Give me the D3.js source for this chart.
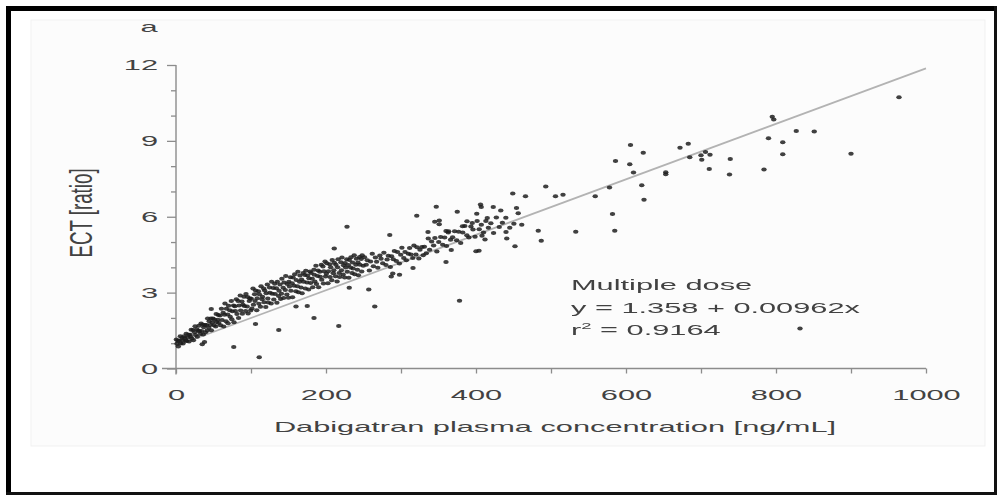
<!DOCTYPE html>
<html>
<head>
<meta charset="utf-8">
<script src="https://cdn.jsdelivr.net/npm/d3@7"></script>
<style>
  body { margin: 0; background: #fff; }
  svg { display: block; font-family: "Liberation Sans", Arial, sans-serif; }
</style>
</head>
<body>
<svg id="chart" width="997" height="495"></svg>
<script>
// axis ticks
const xTickValues = [0, 100, 200, 300, 400, 500, 600, 700, 800, 900, 1000];
const xLabelValues = [0, 200, 400, 600, 800, 1000];
const yTickValues = [0, 1, 2, 3, 4, 5, 6, 7, 8, 9, 10, 11, 12];
const yLabelValues = [0, 3, 6, 9, 12];

// fitted line, as drawn in the figure
const fitConc = [0, 1000];
const fitEct = [0.9, 11.87];

// [concentration ng/mL, ECT ratio]
const denseBand = [
  [0.5,1.15],[1.3,0.98],[2.6,1.10],[3.1,0.87],[4.4,1.09],[5.8,1.28],[6.3,0.99],[7.9,1.21],[8.6,1.12],[9.4,0.99],
  [10.8,1.28],[11.5,1.21],[12.9,1.12],[13.6,1.37],[14.2,1.09],[15.7,1.24],[16.9,1.33],[17.4,1.07],[18.8,1.33],[19.5,1.26],
  [20.3,1.53],[21.1,1.19],[22.6,1.52],[23.2,1.12],[24.7,1.43],[25.5,1.67],[26.1,1.32],[27.8,1.55],[28.4,1.26],[29.9,1.49],
  [30.6,1.69],[31.2,1.47],[32.7,1.36],[33.5,1.78],[34.1,1.48],[35.8,1.73],[36.4,1.34],[37.0,1.63],[38.6,1.72],[39.3,1.43],
  [40.8,1.72],[41.5,1.50],[42.2,1.98],[43.7,1.61],[44.3,1.87],[45.9,1.72],[46.6,1.98],[47.1,1.51],[48.5,1.82],[49.2,1.98],
  [50.7,1.71],[51.3,1.94],[52.9,1.66],[53.6,2.15],[54.2,1.84],[55.8,1.93],[56.5,2.12],[57.1,1.80],[58.7,2.10],[59.4,1.71],
  [60.6,2.36],[61.4,1.92],[62.9,2.20],[63.5,1.66],[64.8,2.13],[65.3,2.57],[66.7,1.87],[67.2,2.36],[68.9,2.14],[69.4,1.79],
  [70.1,2.48],[71.6,2.30],[72.3,2.05],[73.8,2.67],[74.4,1.95],[75.1,2.26],[76.7,2.49],[77.3,1.83],[78.6,2.46],[79.2,2.27],
  [80.5,2.74],[81.3,2.15],[82.8,2.67],[83.4,2.00],[84.1,2.49],[85.7,2.89],[86.2,2.29],[87.9,2.65],[88.5,2.16],[89.3,2.52],
  [90.6,2.84],[91.2,2.47],[92.8,2.27],[93.3,2.95],[94.9,2.45],[95.5,2.83],[96.1,2.17],[97.7,2.67],[98.4,2.78],[99.6,2.29],
  [100.4,2.76],[101.2,2.37],[102.7,3.16],[103.3,2.52],[104.8,2.94],[105.4,2.67],[106.1,3.08],[107.6,2.30],[108.3,2.78],[109.9,3.05],
  [110.5,2.56],[111.1,2.94],[112.6,2.44],[113.4,3.25],[114.8,2.74],[115.3,2.84],[116.9,3.16],[117.5,2.62],[118.2,3.08],[119.7,2.43],
  [120.3,2.98],[121.8,3.32],[122.4,2.77],[123.1,2.61],[124.7,3.20],[125.2,3.00],[126.9,2.57],[127.5,3.43],[128.3,2.96],[129.8,3.18],
  [130.4,2.73],[131.6,3.35],[132.2,2.95],[133.9,3.17],[134.5,2.60],[135.1,3.43],[136.8,2.87],[137.4,3.07],[138.7,3.32],[139.5,2.75],
  [140.6,2.96],[141.2,3.55],[142.9,3.19],[143.5,2.79],[144.1,3.40],[145.7,3.10],[146.3,3.66],[147.8,2.93],[148.4,3.34],[149.9,2.80],
  [150.5,3.43],[151.3,3.24],[152.7,3.61],[153.2,3.07],[154.8,3.37],[155.4,2.82],[156.1,3.60],[157.6,3.27],[158.3,3.73],[159.8,3.05],
  [160.4,3.50],[161.9,3.25],[162.5,3.83],[163.2,3.01],[164.8,3.43],[165.3,3.68],[166.7,3.20],[167.4,3.52],[168.1,2.98],[169.6,3.78],
  [170.2,3.43],[171.8,3.70],[172.5,3.16],[173.1,3.86],[174.7,3.40],[175.4,3.68],[176.9,3.12],[177.3,3.57],[178.8,3.84],[179.5,3.38],
  [180.2,3.78],[181.7,3.55],[182.3,3.21],[183.9,3.90],[184.4,3.71],[185.1,3.44],[186.6,4.06],[187.3,3.34],[188.8,3.66],[189.5,3.87],
  [190.1,3.21],[191.7,3.83],[192.4,3.63],[193.8,4.10],[194.3,3.51],[195.9,4.03],[196.6,3.36],[197.2,3.85],[198.7,4.23],[199.4,3.64],
  [200.5,3.75],[201.1,4.16],[202.6,3.37],[203.3,3.85],[204.9,4.12],[205.4,3.62],[206.2,4.00],[207.7,3.49],[208.3,4.29],[209.8,3.77],
  [210.4,3.88],[211.1,4.18],[212.7,3.65],[213.2,4.10],[214.8,3.44],[215.5,4.00],[216.1,4.32],[217.6,3.78],[218.3,3.62],[219.9,4.20],
  [220.6,3.88],[221.3,4.39],[222.8,3.72],[223.4,4.08],[224.9,3.60],[225.5,4.17],[226.2,3.99],[227.7,4.32],[228.4,3.83],[229.9,4.09],
  [230.5,3.59],[231.2,4.29],[232.8,3.99],[233.3,4.40],[234.7,3.78],[235.4,4.19],[236.1,3.95],[237.6,4.48],[238.2,3.73],[239.8,4.10],
  [240.5,4.34],[241.9,3.90],[242.6,4.19],[243.2,3.69],[244.8,4.41],[245.3,4.10],[246.9,4.33],[247.6,3.84],[248.2,4.48],[249.7,4.06],
  [251.3,4.40],[253.6,4.10],[255.1,4.28],[257.8,3.87],[259.4,4.23],[261.7,4.54],[263.2,4.04],[265.9,4.39],[267.5,4.22],[269.1,3.98],
  [271.8,4.47],[273.4,4.34],[275.6,4.16],[277.2,4.58],[279.9,4.09],[281.5,4.31],[283.1,4.46],[285.8,4.01],[287.4,4.44],[289.7,4.32],
  [291.2,4.65],[293.8,4.25],[295.3,4.61],[297.9,4.15],[299.6,4.50],[301.2,4.77],[303.7,4.37],[305.4,4.61],[307.1,4.28],[309.8,4.54],
  [311.5,4.76],[313.2,4.51],[315.7,4.37],[317.3,4.86],[319.9,4.51],[321.4,4.79],[323.8,4.35],[325.3,4.70],[327.9,4.80],[329.6,4.48],
  [331.2,4.81],[333.7,4.56],[336.4,5.14],[338.1,4.70],[340.8,5.02],[343.5,4.86],[345.2,5.16],[347.8,4.63],[350.3,5.00],[352.9,5.20],
  [355.6,4.89],[358.2,5.18],[360.7,4.84],[363.4,5.43],[366.1,5.09],[368.8,5.19],[371.5,5.43],[374.2,5.07],[376.9,5.41],[379.6,4.96],
  [382.3,5.38],[385.1,5.63],[387.8,5.27],[390.5,5.18],[393.2,5.61],[396.0,5.50],[398.7,5.21],[401.5,5.83],[404.3,5.51],[407.1,5.68],
  [410.0,5.38],[413.2,5.83],[416.5,5.57],[419.8,5.74],[423.4,5.36],[427.1,5.97],[431.0,5.59],[435.2,5.76],[439.8,5.96],[445.0,5.57],
  [450.5,5.72],[456.3,6.14]
];

const scattered = [
  [35,0.96],[47,2.35],[38,1.05],[77,0.85],[111,0.44],[106,1.76],[137,1.52],[175,2.47],[160,2.45],[184,2.0],
  [217,1.68],[211,4.74],[228,5.6],[265,2.45],[257,3.12],[231,3.19],[287,3.64],[298,3.71],[285,5.28],[378,2.68],
  [316,3.97],[289,3.76],[360,4.21],[367,4.69],[400,4.64],
  [321,6.04],[347,6.4],[375,6.2],[336,5.4],[345,5.8],[351,5.85],[360,5.44],[382,5.62],[388,5.82],[395,5.75],
  [401,6.12],[406,6.48],[407,6.39],[415,5.95],[423,6.39],[433,6.25],[440,5.4],[441,5.14],[452,4.83],[454,6.35],
  [461,5.68],[408,5.25],[412,5.1],[404,4.66],[363,5.38],[351,5.7],
  [449,6.92],[466,6.81],[483,5.45],[487,5.05],[493,7.2],[506,6.81],[516,6.87],[533,5.41],[559,6.81],[578,7.16],
  [582,6.11],[585,5.45],[586,8.2],[605,8.08],[606,8.84],[610,7.75],[621,7.25],[623,8.53],[624,6.67],[653,7.76],
  [653,7.68],[672,8.73],[683,8.89],[685,8.35],[700,8.43],[701,8.25],[706,8.56],[712,8.45],[711,7.89],[738,7.67],
  [739,8.28],[784,7.87],[790,9.1],[795,9.95],[797,9.85],[809,8.95],[809,8.47],[827,9.39],[851,9.37],[900,8.49],
  [964,10.72],[832,1.58]
];

const panelLabel = "a";
const xTitle = "Dabigatran plasma concentration [ng/mL]";
const yTitle = "ECT [ratio]";
const noteTitle = "Multiple dose";
const noteEquation = "y  = 1.358 + 0.00962x";
const noteR2 = "0.9164";

// the source image is stretched sideways, text too
const SX = 2.05;
const textColor = "#424242";
const axisColor = "#8c8c8c";

const svg = d3.select("#chart");
const width = 997;
const height = 495;

const x = d3.scaleLinear().domain([0, 1000]).range([176, 926]);
const y = d3.scaleLinear().domain([0, 12]).range([368.5, 65]);

// soft blur, the scan is fuzzy
svg.append("defs").append("filter")
  .attr("id", "soft")
  .attr("x", "-5%").attr("y", "-5%").attr("width", "110%").attr("height", "110%")
  .append("feGaussianBlur")
  .attr("stdDeviation", 0.55);

// faint panel behind the plot
svg.append("rect")
  .attr("x", 31).attr("y", 20)
  .attr("width", 954).attr("height", 426)
  .attr("fill", "#fcfcfc")
  .attr("stroke", "#f1f1f1");

// black frame
svg.append("rect").attr("x", 6).attr("y", 6).attr("width", 5).attr("height", height - 6).attr("fill", "#000");
svg.append("rect").attr("x", 6).attr("y", 6).attr("width", width - 6).attr("height", 5).attr("fill", "#000");
svg.append("rect").attr("x", 6).attr("y", height - 3).attr("width", width - 6).attr("height", 3).attr("fill", "#111");
svg.append("rect").attr("x", width - 3).attr("y", 6).attr("width", 3).attr("height", height - 6).attr("fill", "#111");

function wideText(px, py, str, anchor) {
  return svg.append("text")
    .attr("transform", `translate(${px},${py}) scale(${SX},1)`)
    .attr("text-anchor", anchor)
    .attr("font-size", 15)
    .attr("fill", textColor)
    .text(str);
}

// axes
const gx = svg.append("g")
  .attr("transform", `translate(0,${y(0)})`)
  .call(d3.axisBottom(x)
    .tickValues(xTickValues)
    .tickSize(5)
    .tickSizeOuter(0)
    .tickFormat((d) => (xLabelValues.includes(d) ? d : "")));
gx.attr("font-family", null).attr("font-size", null);
gx.select(".domain").remove();
gx.selectAll(".tick line").attr("stroke", axisColor).attr("stroke-width", 1.3);
gx.selectAll(".tick text")
  .attr("y", 21)
  .attr("transform", `scale(${SX},1)`)
  .attr("font-size", 15)
  .attr("fill", textColor);

const gy = svg.append("g")
  .attr("transform", `translate(${x(0)},0)`)
  .call(d3.axisLeft(y)
    .tickValues(yTickValues)
    .tickSize(5)
    .tickSizeOuter(0)
    .tickFormat((d) => (yLabelValues.includes(d) ? d : "")));
gy.attr("font-family", null).attr("font-size", null);
gy.select(".domain").remove();
gy.selectAll(".tick line")
  .attr("stroke", axisColor)
  .attr("stroke-width", 1.3)
  .attr("x2", (d) => (yLabelValues.includes(d) ? -9 : -5));
gy.selectAll(".tick text")
  .attr("x", -18 / SX)
  .attr("transform", `scale(${SX},1)`)
  .attr("font-size", 15)
  .attr("fill", textColor);

// axis lines
svg.append("line")
  .attr("x1", x(0)).attr("x2", x(0))
  .attr("y1", y(12)).attr("y2", y(0) + 6)
  .attr("stroke", axisColor).attr("stroke-width", 1.4);
svg.append("line")
  .attr("x1", x(0) - 14).attr("x2", x(1000))
  .attr("y1", y(0)).attr("y2", y(0))
  .attr("stroke", axisColor).attr("stroke-width", 1.4);

// regression line
const fit = fitConc.map((c, i) => [c, fitEct[i]]);
svg.append("path")
  .datum(fit)
  .attr("fill", "none")
  .attr("stroke", "#b3b3b3")
  .attr("stroke-width", 1.8)
  .attr("d", d3.line().x((d) => x(d[0])).y((d) => y(d[1])));

// points
svg.append("g")
  .attr("filter", "url(#soft)")
  .selectAll("ellipse")
  .data(denseBand.concat(scattered))
  .join("ellipse")
  .attr("cx", (d) => x(d[0]))
  .attr("cy", (d) => y(d[1]))
  .attr("rx", 2.7)
  .attr("ry", 2.0)
  .attr("fill", "#1c1c1c")
  .attr("opacity", 0.85);

// titles
wideText(149, 32, panelLabel, "middle");
wideText(555, 432, xTitle, "middle");
svg.append("text")
  .attr("transform", `translate(92,213) scale(${SX},1.25) rotate(-90)`)
  .attr("text-anchor", "middle")
  .attr("font-size", 15)
  .attr("fill", textColor)
  .text(yTitle);

// annotation
wideText(571, 290, noteTitle, "start");
wideText(571, 313, noteEquation, "start");
const r2 = wideText(571, 335, "", "start");
r2.append("tspan").text("r");
r2.append("tspan").attr("font-size", 9).attr("dy", -6).text("2");
r2.append("tspan").attr("dy", 6).text(" = " + noteR2);
</script>
</body>
</html>
